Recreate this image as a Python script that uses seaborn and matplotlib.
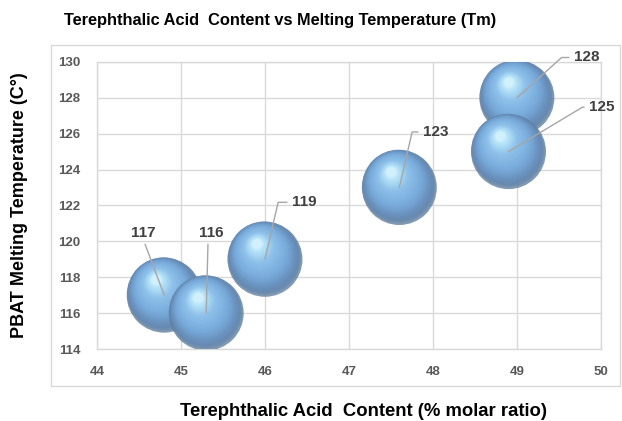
import numpy as np
import matplotlib
matplotlib.use("Agg")
import matplotlib.pyplot as plt
import matplotlib.transforms as mtransforms
from matplotlib.colors import LinearSegmentedColormap
from matplotlib.font_manager import FontProperties
from matplotlib.patches import Rectangle
import seaborn as sns
import pandas as pd

# Data
tpa_content = [44.8, 45.3, 46.0, 47.6, 49.0, 48.9]
melting_temp = [117, 116, 119, 123, 128, 125]

x_ticks = [44, 45, 46, 47, 48, 49, 50]
y_ticks = [114, 116, 118, 120, 122, 124, 126, 128, 130]

df = pd.DataFrame({"tpa": tpa_content, "tm": melting_temp})

sns.set_theme(style="white")
plt.rcParams["font.family"] = ["Liberation Sans", "DejaVu Sans"]

fig = plt.figure(figsize=(6.22, 4.21), dpi=100)
ax = fig.add_axes([0.156, 0.171, 0.810, 0.682])

# outer chart frame
fig.patches.append(Rectangle((51 / 622, 1 - 386 / 421), (620 - 51) / 622, (386 - 45) / 421,
                             transform=fig.transFigure, fill=False,
                             edgecolor="#d9d9d9", linewidth=1.0, zorder=0))

grid_col = "#d9d9d9"
ax.set_xlim(44, 50)
ax.set_ylim(114, 130)
tick_font = FontProperties(family=["Liberation Sans", "DejaVu Sans"], weight="bold", size=9.5)
ax.set_xticks(x_ticks)
ax.set_xticklabels([str(v) for v in x_ticks], fontproperties=tick_font, color="#595959")
ax.set_yticks(y_ticks)
ax.set_yticklabels([str(v) for v in y_ticks], fontproperties=tick_font, color="#595959")
ax.grid(True, color=grid_col, linewidth=1.0)
ax.set_axisbelow(True)
for sp in ax.spines.values():
    sp.set_color(grid_col)
    sp.set_linewidth(1.0)
ax.tick_params(axis="both", length=0, pad=12)

# sphere shading
R_pt = 27.0
base_size = (2 * R_pt) ** 2
shade = LinearSegmentedColormap.from_list(
    "sphere",
    [(0.0, "#5d7ea6"), (0.12, "#6a93c0"), (0.35, "#79acdc"),
     (0.65, "#8ec1ea"), (0.88, "#b5e2f8"), (1.0, "#dcf6ff")])
n_layers = 36
hx, hy = -0.22 * R_pt, 0.42 * R_pt

for i in range(len(df)):
    row = df.iloc[[i]]
    # base disc
    sns.scatterplot(data=row, x="tpa", y="tm", ax=ax, s=base_size,
                    color="#62819f", edgecolor="none", alpha=0.8,
                    legend=False, zorder=3 + i * 0.01)
    for k in range(1, n_layers):
        t = k / n_layers
        frac = 1 - 0.9 * t
        tr = mtransforms.offset_copy(ax.transData, fig=fig,
                                     x=hx * t ** 0.7, y=hy * t ** 0.7, units="points")
        ax.scatter(row["tpa"], row["tm"], s=base_size * frac ** 2,
                   color=shade(t), edgecolor="none",
                   alpha=0.5 if t < 0.2 else 0.85,
                   transform=tr, zorder=3 + i * 0.01)

# value labels with leader lines
label_offsets = [(-15, 45), (4, 58), (28, 41), (26, 40), (50, 29), (67, 32)]
label_rel = [(0.5, 0), (0.35, 0), (0, 0.5), (0, 0.5), (0, 0.5), (0, 0.5)]
label_conn = ["arc3", "arc3",
              "angle,angleA=0,angleB=77,rad=0",
              "angle,angleA=0,angleB=77,rad=0",
              "angle,angleA=0,angleB=42,rad=0",
              "angle,angleA=0,angleB=31,rad=0"]
for (x, y), off, rel, conn in zip(zip(tpa_content, melting_temp),
                                   label_offsets, label_rel, label_conn):
    ax.annotate(f"{y}", xy=(x, y), xytext=off, textcoords="offset points",
                ha="center", va="center", fontsize=11, color="#404040",
                fontweight="bold", family=["Liberation Sans", "DejaVu Sans"],
                arrowprops=dict(arrowstyle="-", color="#a6a6a6", lw=1.0,
                                relpos=rel, shrinkA=1, shrinkB=0,
                                connectionstyle=conn),
                zorder=10)

ax.set_xlabel("")
ax.set_ylabel("")

fig.text(280 / 622, 1 - 20 / 421, "Terephthalic Acid  Content vs Melting Temperature (Tm)",
         ha="center", va="center", fontsize=11.8, fontweight="bold", color="black")
fig.text(363 / 622, 1 - 411 / 421, "Terephthalic Acid  Content (% molar ratio)",
         ha="center", va="center", fontsize=13.3, fontweight="bold", color="black")
fig.text(20 / 622, 1 - 205 / 421, "PBAT Melting Temperature (C°)",
         ha="center", va="center", rotation=90, fontsize=13, fontweight="bold",
         color="black")

fig.savefig("out.png", dpi=100)
